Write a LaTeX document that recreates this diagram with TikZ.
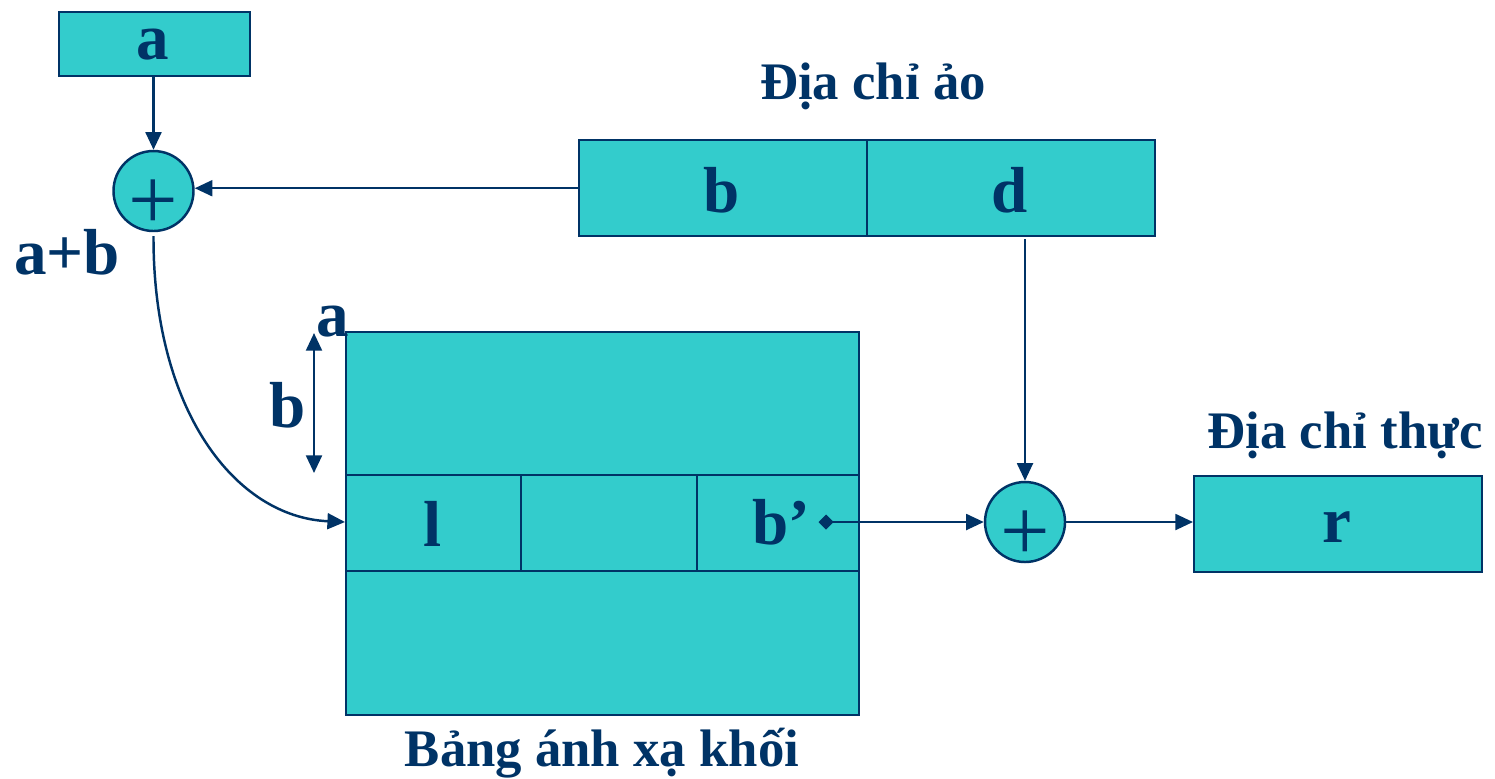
\documentclass[tikz,border=0pt]{standalone}
\usepackage{fontspec}
\setmainfont{Liberation Serif}
\usetikzlibrary{arrows.meta}
\definecolor{fillc}{HTML}{33CCCC}
\definecolor{linec}{HTML}{003366}
\begin{document}
\begin{tikzpicture}[x=0.01cm,y=-0.01cm,
  every node/.style={text=linec},
  boxc/.style={draw=linec,fill=fillc,line width=0.7pt,inner sep=0pt,anchor=north west},
  sumc/.style={circle,draw=linec,fill=fillc,line width=0.7pt,minimum size=80*0.01cm,inner sep=0pt},
  plustxt/.style={font=\fontsize{25}{25}\selectfont,inner sep=0pt},
  big/.style={font=\fontsize{18.5}{18.5}\selectfont\bfseries},
  captxt/.style={font=\fontsize{15}{15}\selectfont\bfseries,anchor=base},
  conn/.style={draw=linec,line width=0.7pt,-{Triangle[length=5pt,width=4.5pt]}},
]
\useasboundingbox (0,0) rectangle (1495,778);
% box a
\node[boxc,minimum width=191*0.01cm,minimum height=64*0.01cm] (abox) at (58,11) {};
\node[big] (atext) at (153,45) {a};
% adder 1
\node[sumc] (sum1) at (153.5,191) {};
\node[plustxt] (plus1) at (153.5,205) {+};
% virtual address
\node[captxt] (vlabel) at (873,99) {Địa chỉ ảo};
\node[boxc,minimum width=288*0.01cm,minimum height=96*0.01cm] (bbox) at (578,139) {};
\node[boxc,minimum width=288*0.01cm,minimum height=96*0.01cm] (dbox) at (866,139) {};
\node[big] (btext) at (722,190) {b};
\node[big] (dtext) at (1010,190) {d};
% a+b
\node[big,anchor=base] (ablabel) at (67,274) {a+b};
% table
\node[boxc,minimum width=513*0.01cm,minimum height=383*0.01cm] (table) at (345,331) {};
\draw[linec,line width=0.7pt] (345,475) -- (858,475);
\draw[linec,line width=0.7pt] (345,571) -- (858,571);
\draw[linec,line width=0.7pt] (521,475) -- (521,571);
\draw[linec,line width=0.7pt] (697,475) -- (697,571);
\node[big] (ltext) at (433,524) {l};
\node[big] (bptext) at (781,522) {b’};
\node[big] (alabel) at (333,322) {a};
\node[big] (blabel) at (288,405) {b};
\coordinate (bt) at (314,333);
\coordinate (bb) at (314,473);
\draw[draw=linec,line width=0.7pt,{Triangle[length=5pt,width=4.5pt]}-{Triangle[length=5pt,width=4.5pt]}] (bt) -- (bb);
\coordinate (lrow) at (345,522);
\node[captxt] (tlabel) at (602,766) {Bảng ánh xạ khối};
% adder 2
\node[sumc] (sum2) at (1025,522) {};
\node[plustxt] (plus2) at (1025,536) {+};
% real address
\node[captxt] (rlabel) at (1345,448) {Địa chỉ thực};
\node[boxc,minimum width=288*0.01cm,minimum height=96*0.01cm] (rbox) at (1193,475) {};
\node[big] (rtext) at (1337,527) {r};
% connectors
\draw[conn] (sum1.north |- abox.south) -- (sum1.north);
\draw[conn] (bbox.west) -- (sum1.east |- bbox.west);
\draw[conn] ([yshift=-4*0.01cm]sum1.south) .. controls (153,410) and (235,517) .. (lrow);
\coordinate (dstart) at (1025,239);
\draw[conn] (dstart) -- (sum2.north);
\coordinate (diam) at (826,522);
\fill[linec] (diam) ++(-7.5,0) -- ++(7.5,-7.5) -- ++(7.5,7.5) -- ++(-7.5,7.5) -- cycle;
\draw[conn] (diam) -- (sum2.west);
\draw[conn] (sum2.east) -- (rbox.west |- sum2.east);
\end{tikzpicture}
\end{document}
